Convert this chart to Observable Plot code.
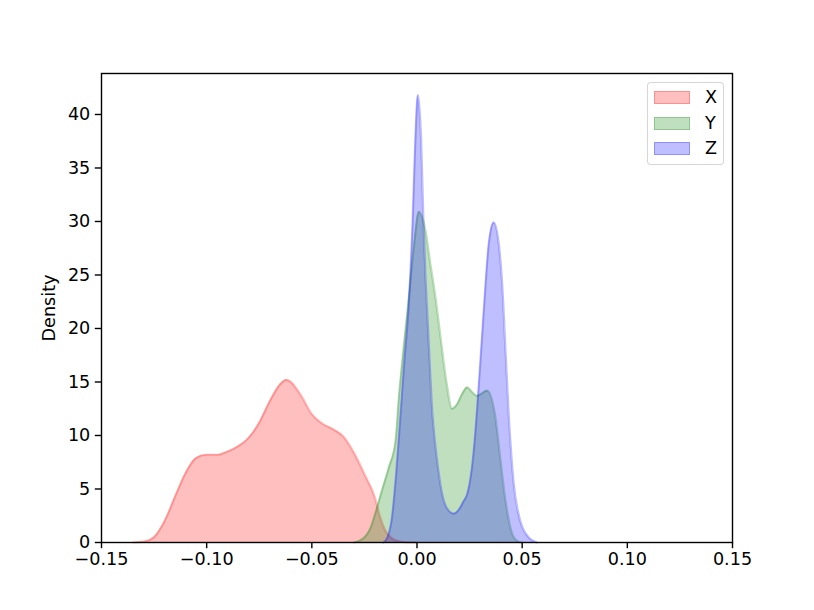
<!DOCTYPE html>
<html>
<head>
<meta charset="utf-8">
<script src="https://cdn.jsdelivr.net/npm/d3@7"></script>
<script src="https://cdn.jsdelivr.net/npm/@observablehq/plot@0.6"></script>
<style>
  body { margin: 0; background: white; }
  #wrap { position: relative; width: 814px; height: 610px; font-family: "DejaVu Sans", sans-serif; }
  #legend { position: absolute; left: 647px; top: 82px; width: 77px; height: 83px;
    border: 1.4px solid rgba(204,204,204,0.8); border-radius: 4px; background: rgba(255,255,255,0.8); box-sizing: border-box; }
  .item { position: absolute; left: 6px; height: 13px; }
  .patch { position: absolute; left: 0; top: 0; width: 36px; height: 13px; box-sizing: border-box; }
  .lab { position: absolute; left: 51px; top: -4px; font-size: 17.6px; color: black; line-height: 20px; }
</style>
</head>
<body>
<div id="wrap"></div>
<script>
// Series X (red)
const xX = [-0.135,-0.130,-0.125,-0.120,-0.115,-0.110,-0.105,-0.100,-0.095,-0.090,-0.085,-0.080,-0.075,-0.070,-0.065,-0.062,-0.060,-0.055,-0.050,-0.045,-0.040,-0.035,-0.030,-0.025,-0.020,-0.0174,-0.015,-0.012,-0.008,-0.004,0.000];
const dX = [0.0,0.08,0.5,2.0,4.3,6.5,7.9,8.2,8.2,8.5,9.0,9.8,11.2,13.2,14.8,15.2,15.0,13.7,12.0,11.1,10.6,9.9,8.4,6.4,4.2,2.3,1.1,0.4,0.08,0.01,0.0];
// Series Y (green)
const xY = [-0.030,-0.027,-0.024,-0.022,-0.020,-0.0166,-0.0134,-0.0102,-0.0086,-0.0063,-0.0039,-0.0015,0.0009,0.004,0.0064,0.0088,0.0112,0.014,0.0167,0.019,0.0215,0.0239,0.026,0.0286,0.0334,0.0373,0.0397,0.0421,0.0453,0.048,0.050];
const dY = [0.0,0.2,0.7,1.4,2.6,4.9,7.0,9.5,13.6,18.3,22.9,27.6,30.9,29.2,26.0,22.9,19.2,15.0,12.5,12.9,13.9,14.5,14.1,13.7,14.2,11.7,7.7,3.9,0.8,0.1,0.0];
// Series Z (blue)
const xZ = [-0.016,-0.014,-0.012,-0.010,-0.008,-0.006,-0.004,-0.002,-0.001,0.0004,0.001,0.002,0.003,0.004,0.005,0.006,0.007,0.008,0.010,0.012,0.014,0.0175,0.020,0.022,0.024,0.026,0.027,0.0294,0.031,0.0326,0.0341,0.0365,0.0389,0.0405,0.0421,0.0437,0.046,0.049,0.053,0.057];
const dZ = [0.0,0.5,2.2,6.2,11.5,17.0,22.0,30.5,36.5,41.8,41.0,37.5,30.5,25.0,21.0,17.0,13.0,10.5,7.0,4.5,3.3,2.7,3.1,3.8,4.6,6.8,8.6,14.8,19.5,24.2,27.9,29.9,27.9,24.2,17.9,11.7,5.5,2.1,0.5,0.0];

const seriesNames = ["X","Y","Z"];
const seriesColors = ["red","green","blue"];
const xTicks = [-0.15,-0.10,-0.05,0.00,0.05,0.10,0.15];
const yTicks = [0,5,10,15,20,25,30,35,40];

const data = [];
[[xX,dX],[xY,dY],[xZ,dZ]].forEach(([xs,ds],i) => xs.forEach((x,j) => data.push({series: seriesNames[i], x, d: ds[j]})));

const fmt = v => (v < 0 ? "\u2212" : "") + Math.abs(v).toFixed(2);

const marks = [];
seriesNames.forEach((s,i) => {
  const rows = data.filter(r => r.series === s);
  marks.push(Plot.areaY(rows, {x: "x", y: "d", fill: seriesColors[i], fillOpacity: 0.25, curve: "monotone-x"}));
  marks.push(Plot.lineY(rows, {x: "x", y: "d", stroke: seriesColors[i], strokeOpacity: 0.25, strokeWidth: 2.2, curve: "monotone-x"}));
});

const plot = Plot.plot({
  width: 814,
  height: 610,
  marginLeft: 101,
  marginRight: 82,
  marginTop: 73,
  marginBottom: 68,
  style: {fontFamily: "DejaVu Sans", fontSize: "17.6px", color: "black", background: "white"},
  x: {domain: [-0.15, 0.15]},
  y: {domain: [0, 43.83]},
  marks: [
    ...marks,
    Plot.axisX({ticks: xTicks, tickFormat: fmt, tickSize: 6.2, tickPadding: 4, label: null, stroke: "black", strokeWidth: 1.4, fontSize: 17.6}),
    Plot.axisY({ticks: yTicks, tickFormat: d => String(d), tickSize: 6.2, tickPadding: 5, label: null, stroke: "black", strokeWidth: 1.4, fontSize: 17.6}),
    Plot.frame({stroke: "black", strokeWidth: 1.4}),
    Plot.text(["Density"], {frameAnchor: "left", textAnchor: "middle", rotate: -90, dx: -52, text: d => d, fontSize: 17.6, fill: "black"})
  ]
});

const wrap = document.getElementById("wrap");
wrap.appendChild(plot);

const legend = document.createElement("div");
legend.id = "legend";
seriesNames.forEach((s,i) => {
  const item = document.createElement("div");
  item.className = "item";
  item.style.top = (8 + i * 25.7) + "px";
  const c = d3.color(seriesColors[i]);
  const patch = document.createElement("div");
  patch.className = "patch";
  patch.style.background = `rgba(${c.r},${c.g},${c.b},0.25)`;
  patch.style.border = `1.4px solid rgba(${c.r},${c.g},${c.b},0.25)`;
  const lab = document.createElement("div");
  lab.className = "lab";
  lab.textContent = s;
  item.appendChild(patch);
  item.appendChild(lab);
  legend.appendChild(item);
});
wrap.appendChild(legend);
</script>
</body>
</html>
